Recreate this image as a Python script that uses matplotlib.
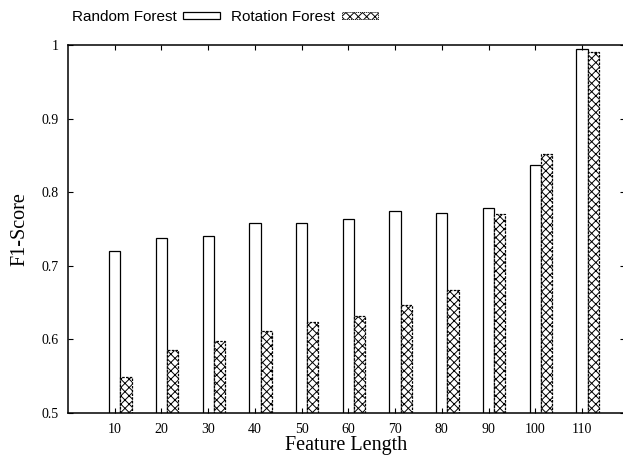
import numpy as np
import matplotlib.pyplot as plt
from matplotlib.patches import Patch

# data
feature_len = [10, 20, 30, 40, 50, 60, 70, 80, 90, 100, 110]
random_forest = [0.720, 0.738, 0.740, 0.758, 0.758, 0.763, 0.774, 0.772, 0.778, 0.837, 0.995]
rotation_forest = [0.549, 0.586, 0.598, 0.612, 0.624, 0.632, 0.647, 0.667, 0.770, 0.852, 0.991]

plt.rcParams['hatch.linewidth'] = 0.7
serif = ['Liberation Serif', 'DejaVu Serif']
sans = ['Liberation Sans', 'DejaVu Sans']

fig = plt.figure(figsize=(6.23, 4.59), dpi=100)
ax = fig.add_axes([68/623, 46/459, 556.5/623, 368/459])

x = np.array(feature_len)
w = 2.4
ax.bar(x - w/2, random_forest, width=w, align='edge', bottom=0,
       facecolor='white', edgecolor='black', linewidth=0.9)
ax.bar(x + w/2, rotation_forest, width=w, align='edge', bottom=0,
       facecolor='white', edgecolor='black', linewidth=0.9,
       hatch='xxxx', linestyle=(0, (2, 1)))

ax.set_xlim(0, 119.1)
ax.set_ylim(0.5, 1.0)
ax.set_xticks(feature_len)
ax.set_yticks([0.5, 0.6, 0.7, 0.8, 0.9, 1.0])
ax.set_yticklabels(['0.5', '0.6', '0.7', '0.8', '0.9', '1'])
ax.tick_params(direction='in', top=True, right=True, length=3.5, width=0.8,
               labelsize=10, pad=7)
for lab in ax.get_xticklabels() + ax.get_yticklabels():
    lab.set_family(serif)
for s in ax.spines.values():
    s.set_linewidth(1.1)

ax.set_xlabel('Feature Length', family=serif, fontsize=14.5, labelpad=0)
ax.set_ylabel('F1-Score', family=serif, fontsize=14.5, labelpad=8)

handles = [Patch(facecolor='white', edgecolor='black', linewidth=0.9),
           Patch(facecolor='white', edgecolor='black', linewidth=0.6,
                 hatch='xxxx', linestyle=(0, (1.5, 1)))]
leg = fig.legend(handles, ['Random Forest', 'Rotation Forest'], ncol=2,
                 markerfirst=False, frameon=False, loc='center left',
                 bbox_to_anchor=(64/623, 1 - 17/459), handlelength=2.4,
                 handleheight=0.4, columnspacing=0.72, handletextpad=0.45,
                 borderpad=0, prop={'family': sans, 'size': 11})

fig.savefig('out.png', dpi=100)
